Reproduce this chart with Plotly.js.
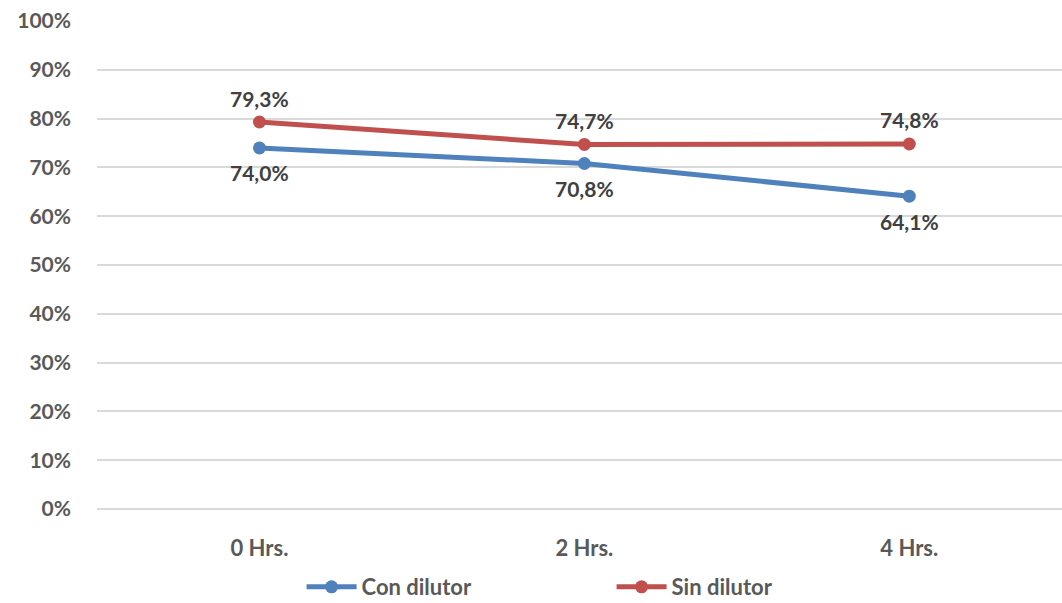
<!DOCTYPE html>
<html>
<head>
<meta charset="utf-8">
<script src="https://cdn.plot.ly/plotly-3.0.1.min.js"></script>
<style>html,body{margin:0;padding:0;background:#fff;}#chart{width:1062px;height:603px;}</style>
</head>
<body>
<div id="chart"></div>
<script>
const categories = ["0 Hrs.", "2 Hrs.", "4 Hrs."];
const conDilutor = [0.740, 0.708, 0.641];
const sinDilutor = [0.793, 0.747, 0.748];
const seriesNames = ["Con dilutor", "Sin dilutor"];
const yTickVals = [0, 0.1, 0.2, 0.3, 0.4, 0.5, 0.6, 0.7, 0.8, 0.9, 1.0];

const FONT = "Lato, 'Open Sans', sans-serif";
const labelFont = {family: FONT, size: 21, color: "#404040", weight: "bold"};
const xs = categories.map((c, i) => i);
const fmt = v => (v * 100).toFixed(1).replace(".", ",") + "%";

const traces = [
  {
    x: xs, y: conDilutor, name: seriesNames[0],
    type: "scatter", mode: "lines+markers",
    line: {color: "#4F81BD", width: 5},
    marker: {color: "#4F81BD", size: 13},
    hoverinfo: "none", cliponaxis: false
  },
  {
    x: xs, y: sinDilutor, name: seriesNames[1],
    type: "scatter", mode: "lines+markers",
    line: {color: "#C0504D", width: 5},
    marker: {color: "#C0504D", size: 13},
    hoverinfo: "none", cliponaxis: false
  }
];

const annotations = [];
conDilutor.forEach((v, i) => annotations.push({
  x: xs[i], y: v, xref: "x", yref: "y", text: fmt(v), showarrow: false,
  yshift: -25, font: labelFont
}));
sinDilutor.forEach((v, i) => annotations.push({
  x: xs[i], y: v, xref: "x", yref: "y", text: fmt(v), showarrow: false,
  yshift: 24, font: labelFont
}));

const layout = {
  width: 1062, height: 603,
  margin: {l: 97, r: 0, t: 21, b: 94, autoexpand: false},
  paper_bgcolor: "#fff", plot_bgcolor: "#fff",
  showlegend: true,
  annotations: annotations,
  xaxis: {
    tickmode: "array", tickvals: xs, ticktext: categories,
    range: [-0.5, 2.47], showgrid: false, zeroline: false, showline: false,
    ticks: "", ticklabelstandoff: 24,
    tickfont: {family: FONT, size: 22, color: "#595959", weight: "bold"}
  },
  yaxis: {
    range: [0, 1], tickvals: yTickVals, tickformat: ".0%",
    showgrid: true, gridcolor: "#D9D9D9", gridwidth: 2,
    zeroline: true, zerolinecolor: "#D9D9D9", zerolinewidth: 2,
    showline: false, ticks: "", ticklabelstandoff: 25,
    tickfont: {family: FONT, size: 21, color: "#595959", weight: "bold"}
  },
  legend: {
    orientation: "h", x: 0.212, xanchor: "left", y: -0.203, yanchor: "bottom",
    font: {family: FONT, size: 22, color: "#595959", weight: "bold"},
    entrywidth: 245, itemwidth: 50
  }
};

Plotly.newPlot("chart", traces, layout, {displayModeBar: false, staticPlot: true});
</script>
</body>
</html>
